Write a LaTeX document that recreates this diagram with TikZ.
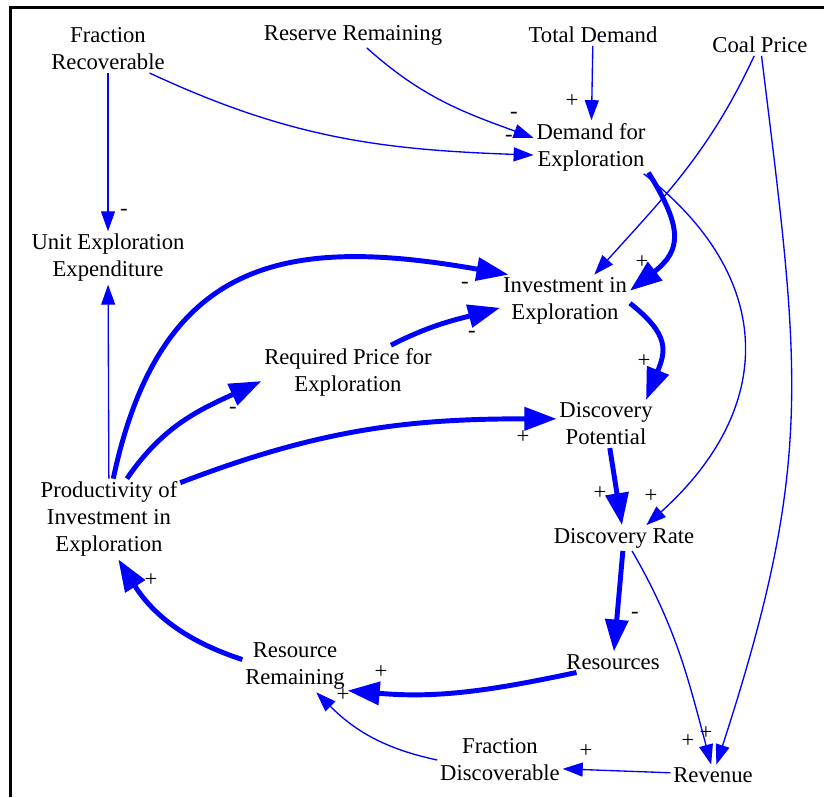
\documentclass[tikz,border=0pt]{standalone}
\usepackage{xcolor}
\usepackage{fontspec}
\setmainfont{Liberation Serif}
\usepackage{tikz}
\usetikzlibrary{arrows.meta}
\definecolor{ldBlue}{HTML}{0000FF}

\begin{document}
\begin{tikzpicture}[x=0.75pt, y=0.75pt,
  var/.style={align=center, inner sep=2pt, font=\fontsize{17}{20.25}\selectfont},
  sgn/.style={inner sep=0pt, font=\fontsize{17}{20}\selectfont},
  lk/.style={draw=ldBlue, line width=1pt, -{Triangle[length=15pt, width=10.5pt]}},
  lkb/.style={draw=ldBlue, line width=3.7pt, -{Triangle[length=24pt, width=17pt]}},
]
  \useasboundingbox (0,0) rectangle (824,-797);
  \draw[line width=2.6pt] (824,-7.3) -- (10.3,-7.3) -- (10.3,-797);

  \node[var] (fr) at (108,-49) {Fraction\\Recoverable};
  \node[var] (rr) at (353,-35) {Reserve Remaining};
  \node[var] (td) at (593,-35) {Total Demand};
  \node[var] (cp) at (760,-45) {Coal Price};
  \node[var] (dfe) at (591,-147) {Demand for\\Exploration};
  \node[var] (uee) at (108,-258) {Unit Exploration\\Expenditure};
  \node[var] (iie) at (565,-301) {Investment in\\Exploration};
  \node[var] (rpe) at (348,-372) {Required Price for\\Exploration};
  \node[var] (dp) at (606,-424) {Discovery\\Potential};
  \node[var] (pie) at (109,-519) {Productivity of\\Investment in\\Exploration};
  \node[var] (dr) at (624,-538) {Discovery Rate};
  \node[var] (res) at (613,-662) {Resources};
  \node[var] (rrem) at (295,-666) {Resource\\Remaining};
  \node[var] (fd) at (500,-760) {Fraction\\Discoverable};
  \node[var] (rev) at (713,-775) {Revenue};

  % thin links
  \draw[lk] (rr.-43) to[out=-42, in=160] (dfe.171);
  \draw[lk] (fr.-30) to[out=-25, in=178] (dfe.188);
  \draw[lk] (td) -- (dfe);
  \draw[lk] (fr) -- (uee);
  \draw[lk] (pie) -- (uee);
  \draw[lk] (cp.-118) to[out=-115, in=48] (iie.42);
  \draw[lk] (cp.-82) to[out=-83, in=72, looseness=1.15] (rev.72);
  \draw[lk] (dfe.-27) to[out=-38, in=42, looseness=1.25] (dr.30);
  \draw[lk] (dr.-58) to[out=-60, in=105] (rev.100);
  \draw[lk] (rev.177) -- (fd.-8);
  \draw[lk] (fd.180) to[out=168, in=-45] (rrem.-51);

  % thick links
  \draw[lkb] (dfe.-24) to[out=-58, in=38, looseness=1.4] (iie.9);
  \draw[lkb] (pie.84) to[out=78, in=170, looseness=1.3] (iie.155);
  \draw[lkb] (rpe.32) to[out=27, in=195] (iie.186);
  \draw[lkb] (pie.66) to[out=56, in=205] (rpe.186);
  \draw[lkb] (pie.27) to[out=21, in=180] (dp.174);
  \draw[lkb] (iie.-2) to[out=-38, in=68, looseness=1.35] (dp.31);
  \draw[lkb] (dp) -- (dr);
  \draw[lkb] (dr) -- (res);
  \draw[lkb] (res.196) to[out=192, in=-5] (rrem.-25);
  \draw[lkb] (rrem.173) to[out=162, in=-58] (pie.-77);

  % polarities
  \node[sgn] (p1) at (514,-115) {-};
  \node[sgn] (p2) at (509,-138) {-};
  \node[sgn] (p3) at (572,-101) {+};
  \node[sgn] (p4) at (124,-212) {-};
  \node[sgn] (p5) at (642,-262) {+};
  \node[sgn] (p6) at (465,-285) {-};
  \node[sgn] (p7) at (472,-334) {-};
  \node[sgn] (p8) at (233,-410) {-};
  \node[sgn] (p9) at (644,-361) {+};
  \node[sgn] (p10) at (523,-437) {+};
  \node[sgn] (p11) at (600,-493) {+};
  \node[sgn] (p12) at (651,-496) {+};
  \node[sgn] (p13) at (635,-615) {-};
  \node[sgn] (p14) at (381,-672) {+};
  \node[sgn] (p15) at (343,-695) {+};
  \node[sgn] (p16) at (151,-580) {+};
  \node[sgn] (p17) at (586,-751) {+};
  \node[sgn] (p18) at (688,-741) {+};
  \node[sgn] (p19) at (706,-733) {+};
\end{tikzpicture}
\end{document}
